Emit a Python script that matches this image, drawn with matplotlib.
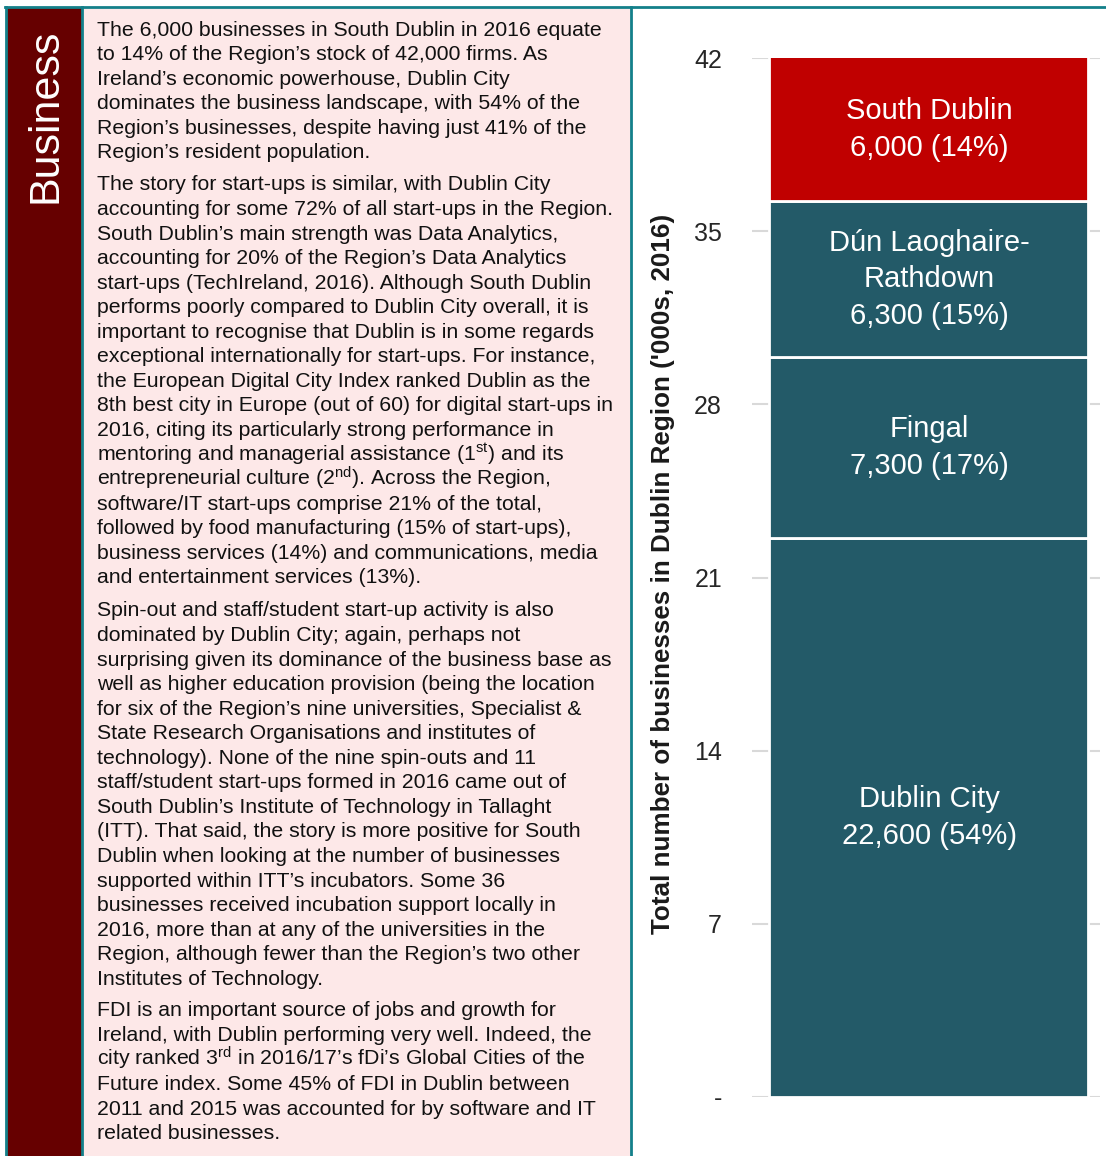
import matplotlib
matplotlib.use("Agg")
import matplotlib.pyplot as plt
from matplotlib import font_manager
from matplotlib.patches import Rectangle

# Data: businesses in the Dublin Region, 2016 ('000s)
areas = ["Dublin City", "Fingal", "Dún Laoghaire-\nRathdown", "South Dublin"]
businesses_k = [22.6, 7.3, 6.3, 6.0]
shares_pct = [54, 17, 15, 14]
bar_colors = ["#235a68", "#235a68", "#235a68", "#c00000"]
y_ticks = [0, 7, 14, 21, 28, 35, 42]
y_tick_labels = ["-", "7", "14", "21", "28", "35", "42"]
y_label = "Total number of businesses in Dublin Region ('000s, 2016)"

side_title = "Business"
paragraphs = [
    ["The 6,000 businesses in South Dublin in 2016 equate",
     "to 14% of the Region’s stock of 42,000 firms. As",
     "Ireland’s economic powerhouse, Dublin City",
     "dominates the business landscape, with 54% of the",
     "Region’s businesses, despite having just 41% of the",
     "Region’s resident population."],
    ["The story for start-ups is similar, with Dublin City",
     "accounting for some 72% of all start-ups in the Region.",
     "South Dublin’s main strength was Data Analytics,",
     "accounting for 20% of the Region’s Data Analytics",
     "start-ups (TechIreland, 2016). Although South Dublin",
     "performs poorly compared to Dublin City overall, it is",
     "important to recognise that Dublin is in some regards",
     "exceptional internationally for start-ups. For instance,",
     "the European Digital City Index ranked Dublin as the",
     "8th best city in Europe (out of 60) for digital start-ups in",
     "2016, citing its particularly strong performance in",
     r"mentoring and managerial assistance (1$^{\mathrm{st}}$) and its",
     r"entrepreneurial culture (2$^{\mathrm{nd}}$). Across the Region,",
     "software/IT start-ups comprise 21% of the total,",
     "followed by food manufacturing (15% of start-ups),",
     "business services (14%) and communications, media",
     "and entertainment services (13%)."],
    ["Spin-out and staff/student start-up activity is also",
     "dominated by Dublin City; again, perhaps not",
     "surprising given its dominance of the business base as",
     "well as higher education provision (being the location",
     "for six of the Region’s nine universities, Specialist &",
     "State Research Organisations and institutes of",
     "technology). None of the nine spin-outs and 11",
     "staff/student start-ups formed in 2016 came out of",
     "South Dublin’s Institute of Technology in Tallaght",
     "(ITT). That said, the story is more positive for South",
     "Dublin when looking at the number of businesses",
     "supported within ITT’s incubators. Some 36",
     "businesses received incubation support locally in",
     "2016, more than at any of the universities in the",
     "Region, although fewer than the Region’s two other",
     "Institutes of Technology."],
    ["FDI is an important source of jobs and growth for",
     "Ireland, with Dublin performing very well. Indeed, the",
     r"city ranked 3$^{\mathrm{rd}}$ in 2016/17’s fDi’s Global Cities of the",
     "Future index. Some 45% of FDI in Dublin between",
     "2011 and 2015 was accounted for by software and IT",
     "related businesses."],
]
para_start_y = [29, 184, 610, 1010]

installed = {f.name for f in font_manager.fontManager.ttflist}
narrow = "Liberation Sans Narrow" if "Liberation Sans Narrow" in installed else "Liberation Sans"

plt.rcParams["font.family"] = ["Liberation Sans", "DejaVu Sans"]
plt.rcParams["mathtext.fontset"] = "custom"
plt.rcParams["mathtext.rm"] = "Liberation Sans"
plt.rcParams["mathtext.it"] = "Liberation Sans:italic"
plt.rcParams["mathtext.bf"] = "Liberation Sans:bold"

W, H = 1106, 1156
fig = plt.figure(figsize=(W / 100, H / 100), dpi=100)

# background panels in pixel coordinates
bg = fig.add_axes([0, 0, 1, 1], zorder=0)
bg.set_xlim(0, W)
bg.set_ylim(H, 0)
bg.axis("off")

teal = "#13808a"
bg.add_patch(Rectangle((7, 8), 75, H, facecolor="#660000", edgecolor="none"))
bg.add_patch(Rectangle((83, 8), 548, H, facecolor="#fde8e8", edgecolor="none"))
bg.plot([5, W], [7, 7], color=teal, lw=2)
for x in [6, 82, 631]:
    bg.plot([x, x], [7, H], color=teal, lw=2)

bg.text(46, 116, side_title, rotation=90, ha="center", va="center",
        color="white", fontsize=31)

line_gap = 24.55
for lines, y0 in zip(paragraphs, para_start_y):
    for i, line in enumerate(lines):
        bg.text(97, y0 + i * line_gap + 6.5, line, ha="left", va="baseline",
                fontsize=15.3, color="#111111")

bg.text(663, 574, y_label, rotation=90, ha="center", va="center",
        fontsize=18.7, fontweight="bold", color="#1a1a1a")

# chart
ax = fig.add_axes([752 / W, 1 - 1097 / H, 348 / W, 1039 / H], zorder=1)
ax.set_facecolor("none")
ymax = 42
bottom = 0
for name, v, s, c in zip(areas, businesses_k, shares_pct, bar_colors):
    ax.bar(0.007, v, bottom=bottom, width=0.915, color=c, edgecolor="white",
           linewidth=2, zorder=3)
    mid = (bottom + min(bottom + v, ymax)) / 2
    ax.text(0.01, mid, f"{name}\n{int(round(v * 1000)):,} ({s}%)",
            ha="center", va="center", color="white", fontsize=21,
            family=[narrow, "DejaVu Sans"], linespacing=1.4, zorder=4)
    bottom += v

ax.set_xlim(-0.5, 0.5)
ax.set_ylim(0, ymax)
ax.set_yticks(y_ticks)
ax.set_yticklabels(y_tick_labels, family=[narrow, "DejaVu Sans"], fontsize=18,
                   color="#262626")
ax.tick_params(axis="y", length=0, pad=21.6)
ax.set_xticks([])
ax.grid(axis="y", color="#d9d9d9", linewidth=1.5, zorder=0)
ax.set_axisbelow(True)
for sp in ax.spines.values():
    sp.set_visible(False)

fig.savefig("out.png", dpi=100)
